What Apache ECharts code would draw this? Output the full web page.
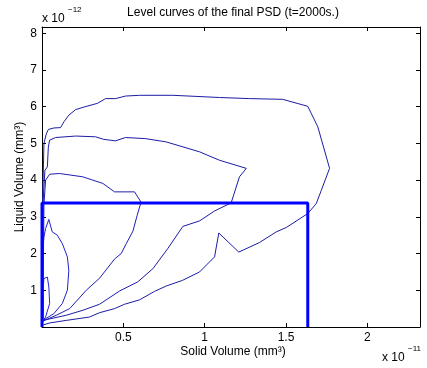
<!DOCTYPE html>
<html>
<head>
<meta charset="utf-8">
<script src="https://cdn.jsdelivr.net/npm/echarts@6/dist/echarts.min.js"></script>
<style>html,body{margin:0;padding:0;background:#fff}#c{width:427px;height:368px}</style>
</head>
<body>
<div id="c"></div>
<script>
// units: x in 1e-11 mm^3, y in 1e-12 mm^3
const xTicks = [0, 0.5, 1, 1.5, 2];
const yTicks = [0, 1, 2, 3, 4, 5, 6, 7, 8];
const xMax = 2.324, yMax = 8.17;

const level1 = [[0.003,0.05],[0.047,0.11],[0.149,0.18],[0.291,0.27],[0.354,0.39],[0.446,0.50],[0.508,0.62],[0.600,0.74],[0.692,0.97],[0.766,1.12],[0.864,1.27],[0.969,1.50],[1.061,1.91],[1.087,2.56],[1.210,2.04],[1.337,2.30],[1.440,2.59],[1.502,2.71],[1.634,3.09],[1.686,3.36],[1.717,3.72],[1.768,4.32],[1.696,5.45],[1.634,6.01],[1.480,6.20],[1.276,6.22],[1.092,6.25],[0.805,6.31],[0.600,6.31],[0.514,6.29],[0.452,6.22],[0.391,6.22],[0.340,6.09],[0.258,5.99],[0.207,5.92],[0.165,5.77],[0.135,5.59],[0.114,5.43],[0.073,5.42],[0.039,5.38],[0.026,5.25],[0.012,5.00],[0.004,3.45],[0.002,0.05]];
const level2 = [[0.002,0.05],[0.006,0.18],[0.149,0.32],[0.251,0.455],[0.354,0.62],[0.477,0.98],[0.589,1.23],[0.682,1.59],[0.774,2.14],[0.866,2.74],[0.969,2.89],[1.061,3.16],[1.163,3.38],[1.214,4.09],[1.256,4.32],[1.092,4.54],[0.969,4.77],[0.764,5.04],[0.637,5.13],[0.514,5.16],[0.452,5.07],[0.380,5.11],[0.329,5.18],[0.207,5.20],[0.084,5.16],[0.047,5.09],[0.039,4.90],[0.033,4.36],[0.018,4.27],[0.006,3.36],[0.004,0.18]];
const level3 = [[0.006,0.16],[0.088,0.32],[0.170,0.50],[0.272,1.00],[0.354,1.33],[0.446,1.85],[0.487,2.00],[0.518,2.27],[0.559,2.61],[0.585,3.04],[0.609,3.40],[0.569,3.68],[0.518,3.68],[0.446,3.68],[0.374,3.91],[0.251,4.09],[0.108,4.18],[0.047,4.16],[0.022,4.00],[0.012,3.32],[0.005,0.18]];
const level4 = [[0.006,0.18],[0.073,0.365],[0.125,0.64],[0.156,1.00],[0.165,1.54],[0.156,1.91],[0.125,2.27],[0.094,2.50],[0.063,2.59],[0.042,2.93],[0.022,2.68],[0.012,2.45],[0.006,2.18],[0.004,0.18]];
const level5 = [[0.006,0.18],[0.022,0.27],[0.047,0.64],[0.042,1.09],[0.033,1.36],[0.022,1.41],[0.012,1.32],[0.006,1.00],[0.004,0.18]];
const level6 = [[0.006,0.25],[0.006,0.87]];
const boxX = [0, 0, 1.634, 1.634];
const boxY = [0, 3.38, 3.38, 0];

const FONT = '"Liberation Sans", Arial, sans-serif';
const chart = echarts.init(document.getElementById('c'), null, {renderer: 'canvas'});

function lineSeries(data, color, width, z) {
  return {type: 'line', data: data, showSymbol: false, symbol: 'none', smooth: false,
    lineStyle: {color: color, width: width}, z: z || 2, animation: false, silent: true};
}
const tickFmt = (ticks) => (v) => {
  for (const t of ticks) if (Math.abs(v - t) < 1e-9 && t !== 0) return String(t);
  return '';
};

const gridBox = {left: 42, top: 27, width: 378, height: 300};
const axisLineStyle = {show: true, onZero: false, lineStyle: {color: '#000', width: 1}};
const tickStyle = {show: true, inside: true, length: 4, lineStyle: {color: '#000'}};

chart.setOption({
  animation: false,
  backgroundColor: '#fff',
  grid: gridBox,
  xAxis: [
    {type: 'value', min: 0, max: xMax, interval: 0.5, position: 'bottom',
     axisLine: axisLineStyle, splitLine: {show: false}, axisTick: tickStyle,
     axisLabel: {color: '#000', fontSize: 12, fontFamily: FONT, margin: 5, formatter: tickFmt(xTicks), showMaxLabel: false}},
    {type: 'value', min: 0, max: xMax, interval: 0.5, position: 'top',
     axisLine: axisLineStyle, splitLine: {show: false}, axisTick: tickStyle,
     axisLabel: {show: false}}
  ],
  yAxis: [
    {type: 'value', min: 0, max: yMax, interval: 1, position: 'left',
     axisLine: axisLineStyle, splitLine: {show: false}, axisTick: tickStyle,
     axisLabel: {color: '#000', fontSize: 12, fontFamily: FONT, margin: 5, formatter: tickFmt(yTicks), showMaxLabel: false}},
    {type: 'value', min: 0, max: yMax, interval: 1, position: 'right',
     axisLine: axisLineStyle, splitLine: {show: false}, axisTick: tickStyle,
     axisLabel: {show: false}}
  ],
  series: [
    lineSeries(level1, '#1c1ca4', 1),
    lineSeries(level2, '#1c1ca4', 1),
    lineSeries(level3, '#1e1eb4', 1),
    lineSeries(level4, '#2222cc', 1),
    lineSeries(level5, '#2424dc', 1),
    lineSeries(level6, '#8a0000', 1),
    lineSeries(boxX.map((x, i) => [x, boxY[i]]), '#0000ff', 3, 5)
  ],
  graphic: [
    {type: 'text', style: {text: 'Level curves of the final PSD (t=2000s.)', x: 233, y: 13, textAlign: 'center', textVerticalAlign: 'middle', font: '12px ' + FONT, fill: '#000'}},
    {type: 'text', style: {text: 'x 10', x: 42, y: 19, textAlign: 'left', textVerticalAlign: 'middle', font: '12px ' + FONT, fill: '#000'}},
    {type: 'text', style: {text: '\u221212', x: 68, y: 10, textAlign: 'left', textVerticalAlign: 'middle', font: '8px ' + FONT, fill: '#000'}},
    {type: 'text', style: {text: 'Solid Volume (mm\u00b3)', x: 233, y: 352, textAlign: 'center', textVerticalAlign: 'middle', font: '12px ' + FONT, fill: '#000'}},
    {type: 'text', style: {text: 'x 10', x: 382, y: 358, textAlign: 'left', textVerticalAlign: 'middle', font: '12px ' + FONT, fill: '#000'}},
    {type: 'text', style: {text: '\u221211', x: 408, y: 349, textAlign: 'left', textVerticalAlign: 'middle', font: '8px ' + FONT, fill: '#000'}},
    {type: 'text', rotation: Math.PI / 2, x: 20, y: 177, style: {text: 'Liquid Volume (mm\u00b3)', x: 0, y: 0, textAlign: 'center', textVerticalAlign: 'middle', font: '12px ' + FONT, fill: '#000'}}
  ]
});
</script>
</body>
</html>
